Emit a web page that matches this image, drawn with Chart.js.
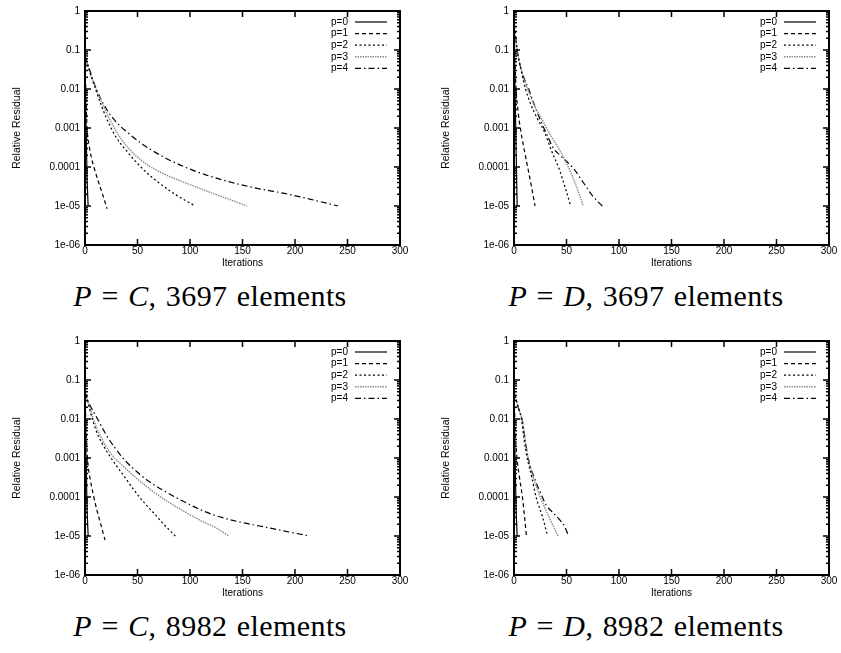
<!DOCTYPE html>
<html>
<head>
<meta charset="utf-8">
<script src="https://cdn.jsdelivr.net/npm/chart.js@4.4.1/dist/chart.umd.min.js"></script>
<style>
  body { margin: 0; background: #fff; }
  #page { position: relative; width: 841px; height: 653px; overflow: hidden; }
  canvas { position: absolute; }
  .cap {
    position: absolute; width: 420px; text-align: center;
    font-family: "Liberation Serif", serif; font-size: 30px; line-height: 30px; color: #000;
    white-space: nowrap; letter-spacing: 0.4px; word-spacing: 1.5px;
  }
</style>
</head>
<body>
<div id="page">
  <canvas id="c1" width="420" height="270" style="left:0;top:0"></canvas>
  <canvas id="c2" width="412" height="270" style="left:429px;top:0"></canvas>
  <canvas id="c3" width="420" height="270" style="left:0;top:330px"></canvas>
  <canvas id="c4" width="412" height="270" style="left:429px;top:330px"></canvas>
  <div class="cap" style="left:0;top:281px"><i>P</i> = <i>C</i>, 3697 elements</div>
  <div class="cap" style="left:436px;top:281px"><i>P</i> = <i>D</i>, 3697 elements</div>
  <div class="cap" style="left:0;top:611px"><i>P</i> = <i>C</i>, 8982 elements</div>
  <div class="cap" style="left:436px;top:611px"><i>P</i> = <i>D</i>, 8982 elements</div>
</div>
<script>
// axis ticks
const xTicks = [0, 50, 100, 150, 200, 250, 300];
const yTicks = [1e-6, 1e-5, 1e-4, 1e-3, 1e-2, 1e-1, 1];
const yTickLabels = ['1e-06', '1e-05', '0.0001', '0.001', '0.01', '0.1', '1'];
const seriesNames = ['p=0', 'p=1', 'p=2', 'p=3', 'p=4'];

// P = C, 3697 elements  [iteration, residual]
const c3697P0 = [[0,7.1e-2],[1,1e-3],[2,5e-5],[3,1e-5]];
const c3697P1 = [[0,7.1e-2],[1,5.0e-3],[2,1e-3],[4,3.5e-4],[6,1.8e-4],[9,8.9e-5],[13,4.0e-5],[17,1.9e-5],[21,8.5e-6]];
const c3697P2 = [[0,7.1e-2],[5,2.5e-2],[10,1e-2],[16,3.5e-3],[23,1.26e-3],[30,5.6e-4],[40,2.5e-4],[55,8.9e-5],[70,4.0e-5],[87,1.9e-5],[105,1e-5]];
const c3697P3 = [[0,7.1e-2],[5,2.5e-2],[10,1.12e-2],[16,4.5e-3],[25,1.4e-3],[35,5.0e-4],[48,2.0e-4],[61,1.07e-4],[77,6.3e-5],[92,4.3e-5],[110,2.8e-5],[124,2.0e-5],[140,1.4e-5],[154,1e-5]];
const c3697P4 = [[0,7.1e-2],[5,2.8e-2],[10,1.12e-2],[20,3.2e-3],[30,1.4e-3],[40,7.9e-4],[55,3.8e-4],[75,1.8e-4],[95,1e-4],[115,6.3e-5],[140,4.0e-5],[165,2.8e-5],[190,2.1e-5],[215,1.48e-5],[241,1e-5]];

// P = D, 3697 elements
const d3697P0 = [[0,0.5],[1,1e-2],[2,3e-4],[3,1e-5]];
const d3697P1 = [[0,0.5],[1,5.0e-2],[2,1e-2],[4,2.5e-3],[6,1e-3],[9,3.5e-4],[13,1e-4],[17,2.8e-5],[20,1e-5]];
const d3697P2 = [[0,0.5],[3,0.1],[7,2.8e-2],[11,1e-2],[16,4.0e-3],[22,1.8e-3],[29,7.9e-4],[36,2.5e-4],[43,8.9e-5],[49,2.8e-5],[54,1e-5]];
const d3697P3 = [[0,0.5],[3,0.1],[8,2.5e-2],[13,1e-2],[20,3.5e-3],[27,1.6e-3],[34,7.1e-4],[42,3.2e-4],[50,1.26e-4],[58,4.0e-5],[66,1e-5]];
const d3697P4 = [[0,0.5],[3,0.1],[8,2.5e-2],[14,1e-2],[20,3.5e-3],[26,1.4e-3],[31,7.1e-4],[37,3.2e-4],[43,2.1e-4],[50,1.4e-4],[57,8.9e-5],[66,4.0e-5],[75,1.8e-5],[84,1e-5]];

// P = C, 8982 elements
const c8982P0 = [[0,5.0e-2],[1,1e-3],[2,5e-5],[3,1e-5]];
const c8982P1 = [[0,5.0e-2],[1,6.3e-3],[2,1.6e-3],[3,6.3e-4],[5,2.8e-4],[8,1.12e-4],[11,5.0e-5],[15,2.0e-5],[19,7.9e-6]];
const c8982P2 = [[0,5.0e-2],[3,2.5e-2],[7,1e-2],[12,4.0e-3],[17,2.2e-3],[22,1.3e-3],[30,6.3e-4],[38,3.2e-4],[46,1.6e-4],[55,7.9e-5],[65,4.0e-5],[75,2.0e-5],[86,1e-5]];
const c8982P3 = [[0,5.0e-2],[3,2.8e-2],[8,1e-2],[15,3.5e-3],[25,1.26e-3],[36,6.3e-4],[48,3.2e-4],[61,1.66e-4],[75,8.9e-5],[93,4.5e-5],[110,2.5e-5],[125,1.6e-5],[137,1e-5]];
const c8982P4 = [[0,5.0e-2],[4,2.5e-2],[12,1e-2],[20,4.0e-3],[28,1.9e-3],[36,1e-3],[48,4.8e-4],[61,2.5e-4],[77,1.35e-4],[93,7.9e-5],[110,4.7e-5],[125,3.3e-5],[150,2.2e-5],[173,1.66e-5],[195,1.26e-5],[214,1e-5]];

// P = D, 8982 elements
const d8982P0 = [[0,5.0e-2],[1,1e-3],[2,5e-5],[3,1e-5]];
const d8982P1 = [[0,5.0e-2],[1,7.9e-3],[2,2.0e-3],[3,8.9e-4],[5,3.5e-4],[8,1e-4],[10,3.2e-5],[12,8.9e-6]];
const d8982P2 = [[0,5.0e-2],[3,2.5e-2],[7,1e-2],[10,2.5e-3],[12.5,1e-3],[17,3.2e-4],[21,1e-4],[27,3.2e-5],[32,1e-5]];
const d8982P3 = [[0,5.0e-2],[4,2.0e-2],[8,8.9e-3],[11,2.5e-3],[13.5,1e-3],[19,2.8e-4],[25,1e-4],[33,3.2e-5],[42,1e-5]];
const d8982P4 = [[0,5.0e-2],[4,2.0e-2],[8,8.9e-3],[11,2.5e-3],[13.5,1e-3],[20,2.8e-4],[27,1e-4],[31,6.0e-5],[37,4.0e-5],[44,2.5e-5],[48,1.8e-5],[52,1e-5]];

// gnuplot-ish line types
const lineStyles = [
  { color: '#000', dash: [], width: 1.2 },
  { color: '#000', dash: [4, 3], width: 1.2 },
  { color: '#000', dash: [2, 2.5], width: 1.2 },
  { color: '#8a8a8a', dash: [1.5, 1], width: 1.4 },
  { color: '#000', dash: [6, 3, 1.5, 3], width: 1.2 }
];

Chart.defaults.font.family = '"Liberation Sans", Arial, sans-serif';
Chart.defaults.font.size = 10;
Chart.defaults.color = '#000';

// frame, inward ticks and inside legend like gnuplot
const gnuFrame = {
  id: 'gnuFrame',
  afterDatasetsDraw(chart) {
    const { ctx, chartArea: a, scales: { x, y } } = chart;
    ctx.save();
    ctx.strokeStyle = '#000';
    ctx.setLineDash([]);
    ctx.lineWidth = 1.5;
    ctx.beginPath();
    xTicks.forEach(v => {
      const px = x.getPixelForValue(v);
      ctx.moveTo(px, a.bottom); ctx.lineTo(px, a.bottom - 6);
      ctx.moveTo(px, a.top); ctx.lineTo(px, a.top + 6);
    });
    yTicks.forEach(v => {
      for (let m = 1; m < 10; m++) {
        const val = v * m;
        if (val > 1.0001) break;
        const py = y.getPixelForValue(val);
        const len = m === 1 ? 6 : 3;
        ctx.moveTo(a.left, py); ctx.lineTo(a.left + len, py);
        ctx.moveTo(a.right, py); ctx.lineTo(a.right - len, py);
      }
    });
    ctx.stroke();
    ctx.lineWidth = 2;
    ctx.strokeRect(a.left, a.top, a.right - a.left, a.bottom - a.top);

    // legend
    ctx.font = '10px "Liberation Sans", Arial, sans-serif';
    ctx.textAlign = 'right';
    ctx.textBaseline = 'middle';
    ctx.fillStyle = '#000';
    chart.data.datasets.forEach((ds, i) => {
      const ly = a.top + 11 + i * 11.6;
      ctx.fillText(ds.label, a.right - 52, ly);
      ctx.beginPath();
      ctx.strokeStyle = ds.borderColor;
      ctx.lineWidth = ds.borderWidth;
      ctx.setLineDash(ds.borderDash);
      ctx.moveTo(a.right - 45, ly);
      ctx.lineTo(a.right - 13, ly);
      ctx.stroke();
    });
    ctx.restore();
  }
};

function makeChart(id, series, rightPad) {
  const datasets = series.map((pts, i) => ({
    label: seriesNames[i],
    data: pts.map(p => ({ x: p[0], y: p[1] })),
    borderColor: lineStyles[i].color,
    borderDash: lineStyles[i].dash,
    borderWidth: lineStyles[i].width,
    pointRadius: 0,
    fill: false,
    cubicInterpolationMode: 'monotone'
  }));
  return new Chart(document.getElementById(id), {
    type: 'line',
    data: { datasets },
    options: {
      responsive: false,
      animation: false,
      devicePixelRatio: 1,
      layout: { padding: { top: 8, right: rightPad, left: 0, bottom: 0 } },
      plugins: { legend: { display: false }, tooltip: { enabled: false } },
      scales: {
        x: {
          type: 'linear', min: 0, max: 300,
          grid: { display: false, drawTicks: false },
          border: { display: false },
          afterBuildTicks: s => { s.ticks = xTicks.map(v => ({ value: v })); },
          afterFit: s => { s.height = 25; },
          ticks: { padding: 0, maxRotation: 0 },
          title: { display: true, text: 'Iterations', font: { size: 10 }, padding: { top: 0, bottom: 1 } }
        },
        y: {
          type: 'logarithmic', min: 1e-6, max: 1,
          grid: { display: false, drawTicks: false },
          border: { display: false },
          afterBuildTicks: s => { s.ticks = yTicks.map(v => ({ value: v })); },
          afterFit: s => { s.width = 85; },
          ticks: {
            padding: 5,
            callback: v => {
              const k = yTicks.findIndex(t => Math.abs(Math.log10(t) - Math.log10(v)) < 1e-6);
              return k >= 0 ? yTickLabels[k] : '';
            }
          },
          title: { display: true, text: 'Relative Residual', font: { size: 10.5 }, padding: { top: 11, bottom: 0 } }
        }
      }
    },
    plugins: [gnuFrame]
  });
}

makeChart('c1', [c3697P0, c3697P1, c3697P2, c3697P3, c3697P4], 20);
makeChart('c2', [d3697P0, d3697P1, d3697P2, d3697P3, d3697P4], 12);
makeChart('c3', [c8982P0, c8982P1, c8982P2, c8982P3, c8982P4], 20);
makeChart('c4', [d8982P0, d8982P1, d8982P2, d8982P3, d8982P4], 12);
</script>
</body>
</html>
